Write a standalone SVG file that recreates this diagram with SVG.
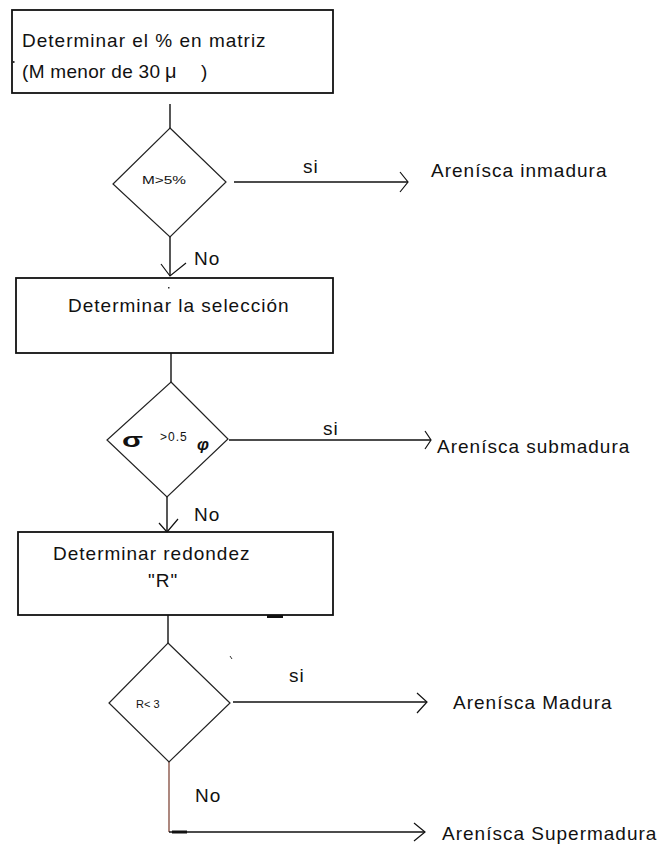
<svg xmlns="http://www.w3.org/2000/svg" width="665" height="849" viewBox="0 0 665 849">
  <style>
    .box { fill: #fff; stroke: #111; stroke-width: 1.8; }
    .dia { fill: #fff; stroke: #222; stroke-width: 1.2; }
    .ln { fill: none; stroke: #111; stroke-width: 1.4; }
    .ah { fill: none; stroke: #111; stroke-width: 1.2; }
    text { font-family: "Liberation Sans", Arial, sans-serif; fill: #111; }
    .t { font-size: 19px; letter-spacing: 1px; }
    .s { font-size: 11px; }
  </style>
  <rect width="665" height="849" fill="#fff"/>

  <!-- connectors -->
  <g id="connectors">
    <line class="ln" x1="170" y1="104" x2="170" y2="128"/>
    <line class="ln" x1="234" y1="182" x2="408" y2="182"/>
    <polyline class="ah" points="400,172 408,182 400,192"/>
    <line class="ln" x1="170" y1="237" x2="170" y2="276"/>
    <polyline class="ah" points="161,264 170,276 186,263"/>
    <line class="ln" x1="171" y1="353" x2="171" y2="382"/>
    <line class="ln" x1="229" y1="440" x2="431" y2="440"/>
    <polyline class="ah" points="425,431 431,440 425,449"/>
    <line class="ln" x1="167" y1="497" x2="167" y2="532"/>
    <polyline class="ah" points="159,523 167,532 178,519"/>
    <line class="ln" x1="168" y1="615" x2="168" y2="643"/>
    <line class="ln" x1="233" y1="702" x2="427" y2="702"/>
    <polyline class="ah" points="417,693 427,702 417,713"/>
    <line x1="169" y1="762" x2="169" y2="832" stroke="#8a5548" stroke-width="1.4"/>
    <line class="ln" x1="169" y1="832" x2="425" y2="832"/>
    <polyline class="ah" points="414,823 425,832 414,841"/>
    <line x1="172" y1="832" x2="187" y2="832" stroke="#111" stroke-width="3"/>
    <line x1="267" y1="616.5" x2="283" y2="616.5" stroke="#111" stroke-width="3"/>
    <text x="303" y="173" class="t">si</text>
    <text x="194" y="265" class="t">No</text>
    <text x="323" y="435" class="t">si</text>
    <text x="194" y="521" class="t">No</text>
    <text x="289" y="682" class="t">si</text>
    <text x="195" y="802" class="t">No</text>
  </g>

  <!-- process boxes -->
  <g id="box-matriz">
    <rect class="box" x="12" y="10" width="321" height="83"/>
    <text x="22" y="47" class="t">Determinar el % en matriz</text>
    <text x="22" y="78" style="font-size:19px;letter-spacing:0.3px">(M menor de 30</text>
    <text x="165" y="78" style="font-size:20px">μ</text>
    <text x="201" y="78" style="font-size:19px">)</text>
    <rect x="13" y="61" width="1.5" height="2" fill="#333"/>
  </g>

  <g id="box-seleccion">
    <rect class="box" x="16" y="278" width="317" height="75"/>
    <text x="68" y="312" class="t">Determinar la selección</text>
    <rect x="168" y="287" width="1.5" height="1.5" fill="#333"/>
  </g>

  <g id="box-redondez">
    <rect class="box" x="18" y="532" width="315" height="83"/>
    <text x="53" y="560" class="t">Determinar redondez</text>
    <text x="148" y="587" class="t">"R"</text>
  </g>

  <!-- decisions -->
  <g id="dec-matriz">
    <polygon class="dia" points="170,128 226,182 170,237 113,184"/>
    <text x="142" y="184" class="s" textLength="44" lengthAdjust="spacingAndGlyphs">M&gt;5%</text>
  </g>

  <g id="dec-seleccion">
    <polygon class="dia" points="171,382 228,439 167,497 107,440"/>
    <text x="122" y="447" style="font-size:20px;font-weight:bold" textLength="21" lengthAdjust="spacingAndGlyphs">σ</text>
    <text x="160" y="441" style="font-size:12px;letter-spacing:1px">&gt;0.5</text>
    <text x="197" y="450" style="font-size:17px;font-style:italic;font-weight:bold">φ</text>
  </g>

  <g id="dec-redondez">
    <polygon class="dia" points="168,643 230,703 169,762 109,703"/>
    <text x="136" y="708" class="s">R&lt; 3</text>
    <line x1="230" y1="656" x2="232" y2="659" stroke="#333" stroke-width="1"/>
  </g>

  <!-- outcomes -->
  <g id="out-inmadura">
    <text x="431" y="177" class="t">Arenísca inmadura</text>
  </g>
  <g id="out-submadura">
    <text x="437" y="453" class="t">Arenísca submadura</text>
  </g>
  <g id="out-madura">
    <text x="453" y="709" class="t">Arenísca Madura</text>
  </g>
  <g id="out-supermadura">
    <text x="442" y="840" class="t">Arenísca Supermadura</text>
  </g>
</svg>
